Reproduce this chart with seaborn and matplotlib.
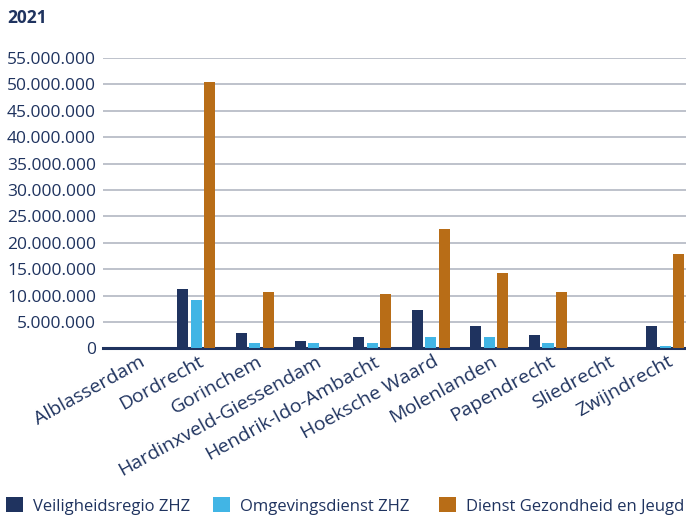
import matplotlib
matplotlib.use("Agg")
import matplotlib.pyplot as plt
import matplotlib.ticker as mticker
import matplotlib.transforms as mtransforms
from matplotlib.patches import Patch
import seaborn as sns
import pandas as pd

categories = ["Alblasserdam", "Dordrecht", "Gorinchem", "Hardinxveld-Giessendam",
              "Hendrik-Ido-Ambacht", "Hoeksche Waard", "Molenlanden", "Papendrecht",
              "Sliedrecht", "Zwijndrecht"]
series_names = ["Veiligheidsregio ZHZ", "Omgevingsdienst ZHZ", "Dienst Gezondheid en Jeugd"]
veiligheidsregio = [0, 11300000, 3000000, 1500000, 2100000, 7200000, 4200000, 2600000, 0, 4200000]
omgevingsdienst = [0, 9200000, 1100000, 1100000, 1100000, 2100000, 2100000, 1100000, 0, 550000]
ggd = [0, 50500000, 10700000, 0, 10300000, 22600000, 14300000, 10700000, 0, 17800000]
colors = ["#1f335f", "#41b5e5", "#b86d17"]
yticks = list(range(0, 55000001, 5000000))

rows = []
for name, vals in zip(series_names, [veiligheidsregio, omgevingsdienst, ggd]):
    for c, v in zip(categories, vals):
        rows.append({"Gemeente": c, "Organisatie": name, "Bedrag": v})
df = pd.DataFrame(rows)

sns.set_theme(style="white")
plt.rcParams["font.family"] = ["Open Sans", "DejaVu Sans"]
navy = "#1f335f"

fig = plt.figure(figsize=(6.86, 5.17), dpi=100)
ax = fig.add_axes([0.150, 0.326, 0.850, 0.562])
sns.barplot(data=df, x="Gemeente", y="Bedrag", hue="Organisatie", palette=colors,
            width=0.69, gap=0.18, ax=ax, legend=False, saturation=1, linewidth=0)
for p in ax.patches:
    p.set_zorder(2)
    p.set_linewidth(0)
    if p.get_height() == 0:
        p.set_visible(False)

ax.set_xlim(-0.594, 9.355)
ax.set_ylim(0, 55000000)
ax.set_yticks(yticks)
ax.yaxis.set_major_formatter(mticker.FuncFormatter(lambda v, p: f"{int(v):,}".replace(",", ".")))
ax.yaxis.grid(True, color="#b3b8c2", linewidth=1.2)
ax.set_axisbelow(True)
for s in ["top", "right", "left"]:
    ax.spines[s].set_visible(False)
ax.spines["bottom"].set_color(navy)
ax.spines["bottom"].set_linewidth(2.2)
ax.spines["bottom"].set_zorder(1)
ax.tick_params(axis="both", length=0, colors=navy)
ax.tick_params(axis="y", pad=5, labelsize=12.5)
ax.tick_params(axis="x", pad=3, labelsize=14)
ax.set_xlabel("")
ax.set_ylabel("")
offset = mtransforms.ScaledTranslation(2 / 100, 0, fig.dpi_scale_trans)
for lab in ax.get_xticklabels():
    lab.set_rotation(29)
    lab.set_ha("right")
    lab.set_va("top")
    lab.set_rotation_mode("anchor")
    lab.set_transform(lab.get_transform() + offset)

fig.text(0.010, 0.965, "2021", fontsize=12.5, fontweight="bold", color=navy, va="center")

legend_pos = [(6, "center left"), (213, "center left"), (684, "center right")]
for c, name, (x0, loc) in zip(colors, series_names, legend_pos):
    fig.legend([Patch(facecolor=c, edgecolor="none")], [name], loc=loc,
               bbox_to_anchor=(x0 / 686, 1 - 506 / 517), frameon=False, fontsize=12,
               labelcolor=navy, handlelength=1.0, handleheight=1.0,
               handletextpad=0.6, borderpad=0, borderaxespad=0)

fig.savefig("out.png", dpi=100)
